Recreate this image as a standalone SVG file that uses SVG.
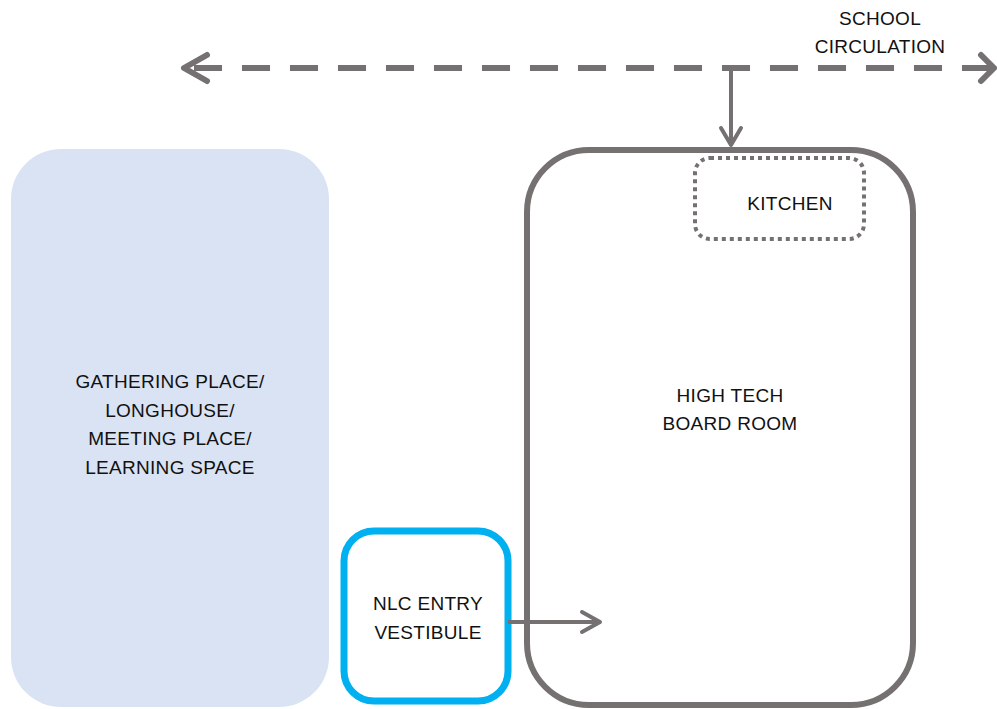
<svg xmlns="http://www.w3.org/2000/svg" width="997" height="709" viewBox="0 0 997 709">
<style>
.t{font-family:"Liberation Sans",Arial,sans-serif;font-size:19px;fill:#111;text-anchor:middle;letter-spacing:0.3px}
.g{fill:none;stroke:#767171;stroke-linecap:round;stroke-linejoin:round}
</style>
<rect width="997" height="709" fill="#fff"/>
<g id="gathering">
<rect x="11" y="149" width="318" height="558" rx="50" fill="#DAE3F3"/>
<text class="t" x="170" y="388">GATHERING PLACE/</text>
<text class="t" x="170" y="417">LONGHOUSE/</text>
<text class="t" x="170" y="445">MEETING PLACE/</text>
<text class="t" x="170" y="474">LEARNING SPACE</text>
</g>
<g id="boardroom">
<rect x="527" y="150" width="386" height="555" rx="62" fill="none" stroke="#767171" stroke-width="6"/>
<text class="t" x="730" y="402">HIGH TECH</text>
<text class="t" x="730" y="430">BOARD ROOM</text>
</g>
<g id="kitchen">
<rect x="695" y="158" width="169" height="81" rx="15" fill="none" stroke="#767171" stroke-width="4" stroke-dasharray="4 4"/>
<text class="t" x="790" y="210">KITCHEN</text>
</g>
<g id="vestibule">
<rect x="344" y="531" width="164" height="170" rx="30" fill="#fff" stroke="#00B0F0" stroke-width="7"/>
<text class="t" x="428" y="610">NLC ENTRY</text>
<text class="t" x="428" y="639">VESTIBULE</text>
</g>
<g id="circulation-label">
<text class="t" x="880" y="25">SCHOOL</text>
<text class="t" x="880" y="53">CIRCULATION</text>
</g>
<g id="connectors">
<line x1="190" y1="68" x2="990" y2="68" stroke="#767171" stroke-width="6" stroke-dasharray="28 20" stroke-dashoffset="-4"/>
<polyline class="g" points="207,55 184,68 207,81" stroke-width="6"/>
<polyline class="g" points="981,55 994,68 981,81" stroke-width="6"/>
<line x1="731" y1="68" x2="731" y2="145" stroke="#767171" stroke-width="4"/>
<polyline class="g" points="721,128 731,145 741,128" stroke-width="4"/>
<line x1="508" y1="622" x2="599" y2="622" stroke="#767171" stroke-width="4"/>
<polyline class="g" points="582,612 600,622 582,632" stroke-width="4"/>
</g>
</svg>
